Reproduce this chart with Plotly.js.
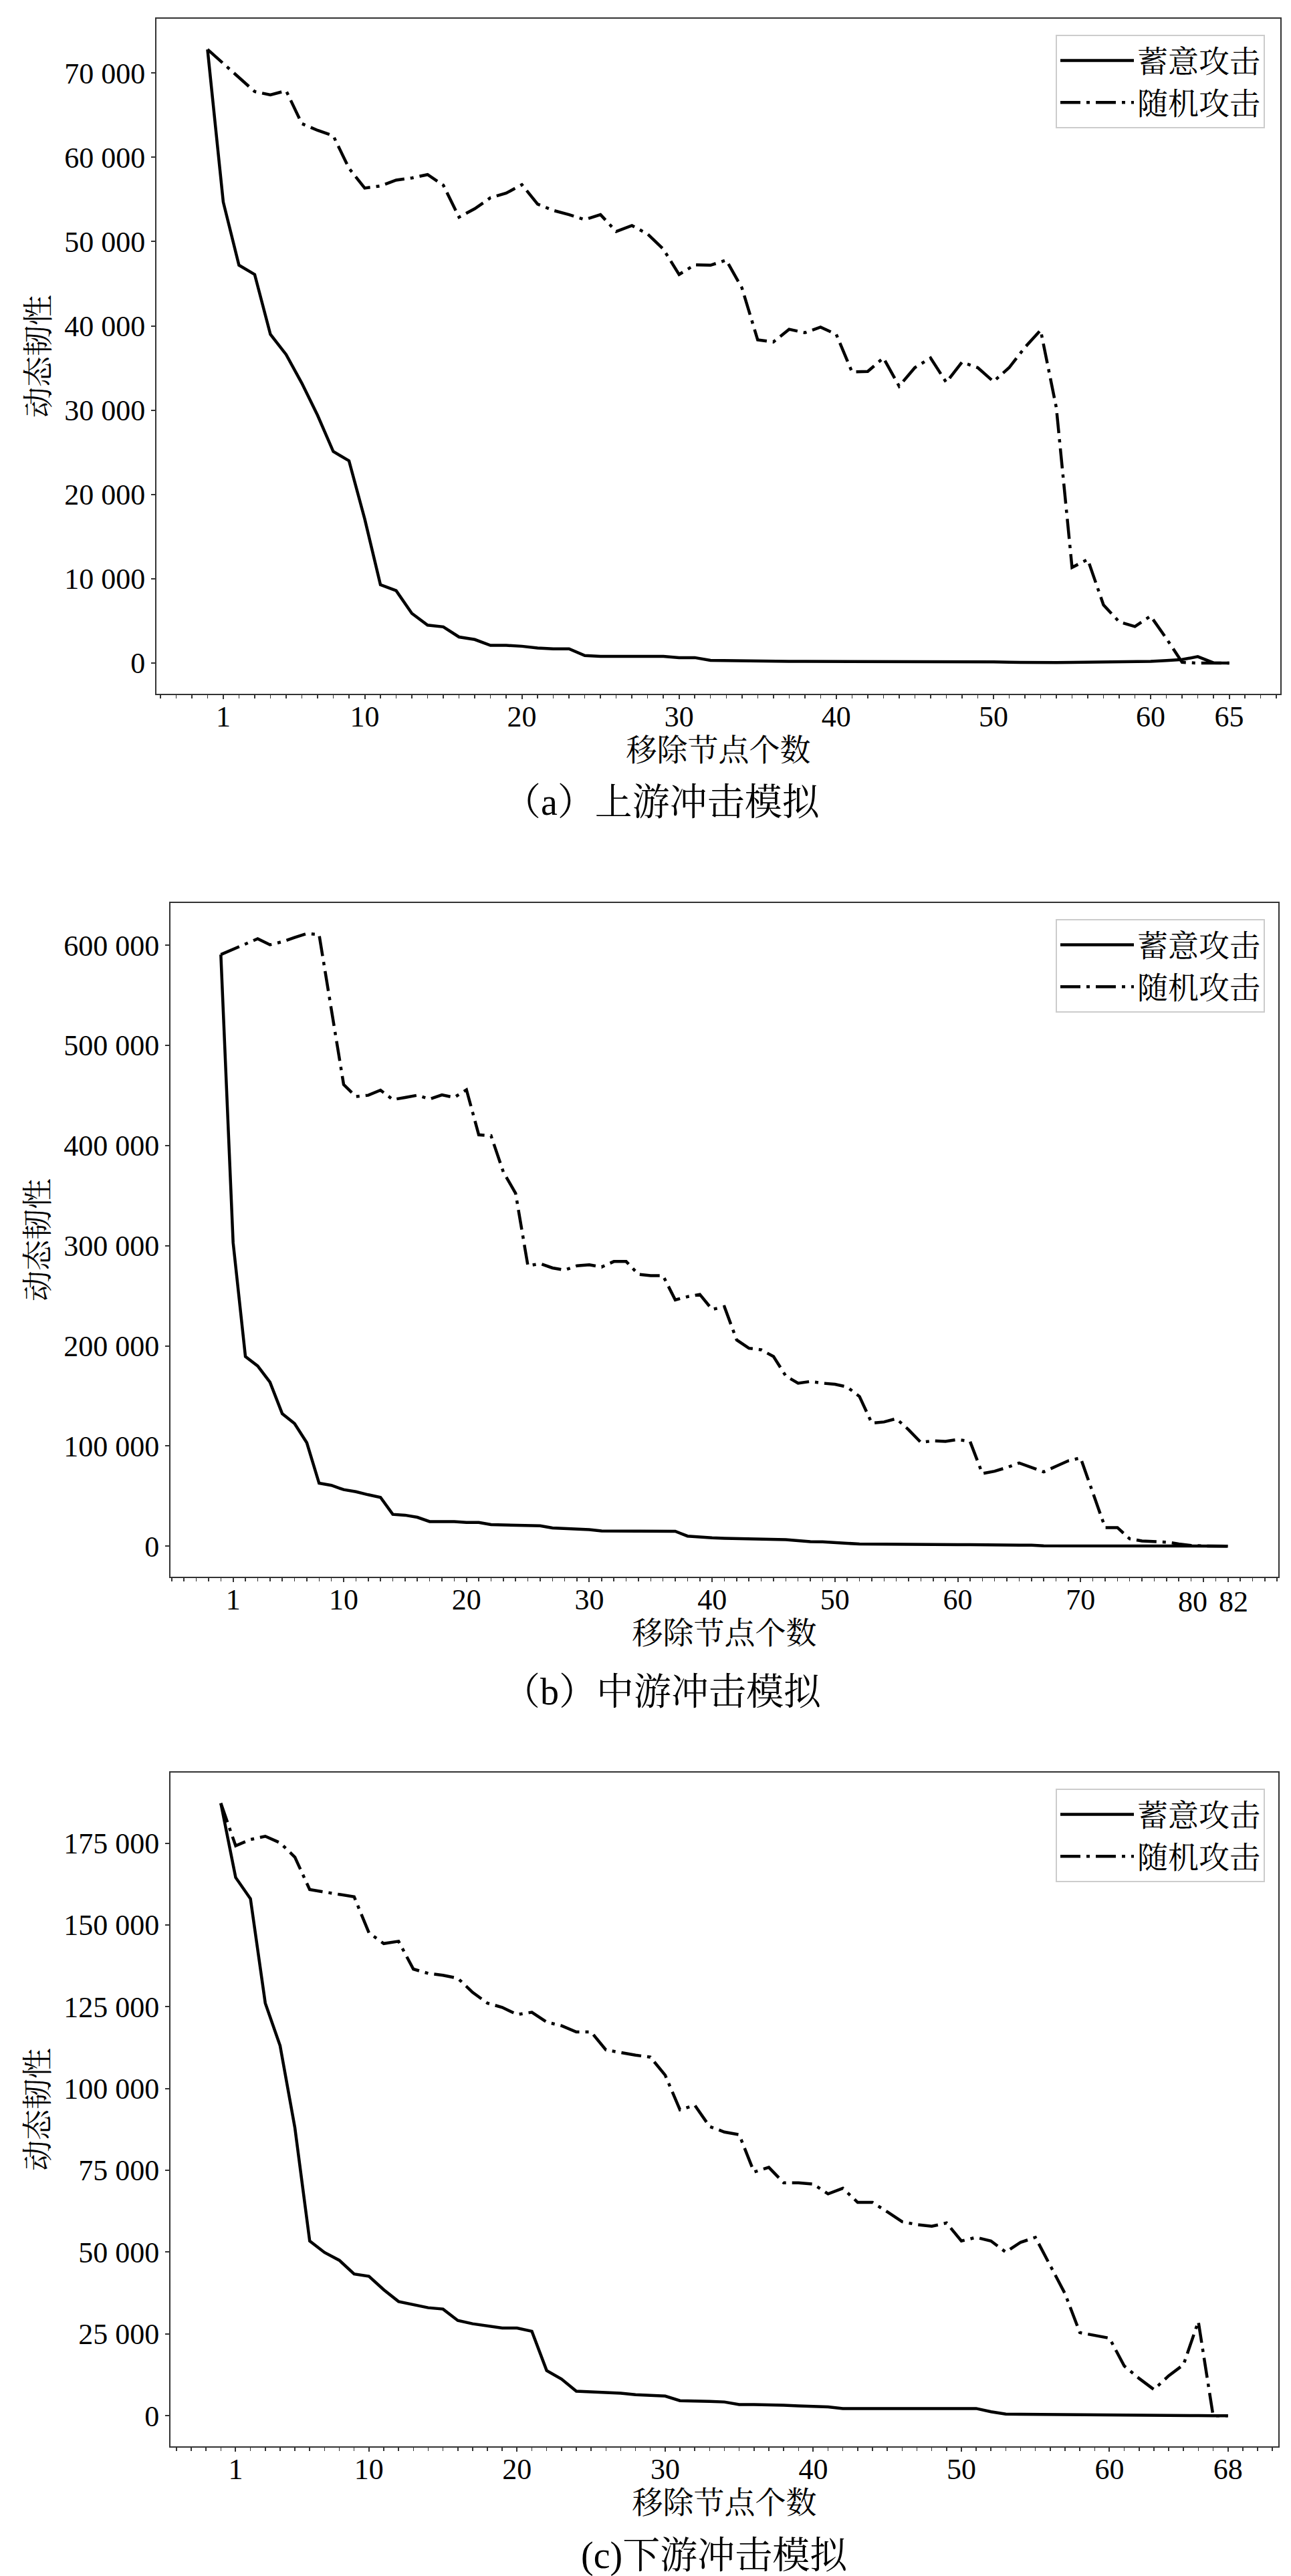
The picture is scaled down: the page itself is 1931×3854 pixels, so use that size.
<!DOCTYPE html>
<html>
<head>
<meta charset="utf-8">
<script src="https://cdn.plot.ly/plotly-3.0.1.min.js"></script>
<style>
  body { margin: 0; background: #fff; }
  #plot { width: 1931px; height: 3854px; }
</style>
</head>
<body>
<div id="plot"></div>
<script>
// values, x = number of removed nodes (0, 1, 2, ...)
const upTargeted = [72800, 54700, 47200, 46100, 39000, 36600, 33200, 29400, 25100, 24000,
  17100, 9300, 8600, 5900, 4500, 4300, 3100, 2800, 2100, 2100,
  2000, 1800, 1700, 1700, 900, 800, 800, 800, 800, 800,
  650, 650, 330, 300, 250, 200, 200, 200, 200, 200,
  190, 190, 190, 190, 180, 180, 180, 170, 170, 170,
  150, 100, 60, 60, 60, 80, 100, 120, 150, 170,
  200, 300, 420, 770, 30, 0];
const upRandom = [72800, 71100, 69500, 67800, 67400, 67900, 64000, 63200, 62550, 58700,
  56350, 56600, 57300, 57550, 57950, 56700, 52900, 53900, 55200, 55750,
  56750, 54450, 53700, 53200, 52600, 53200, 51200, 51900, 50900, 49100,
  46100, 47250, 47200, 47800, 44500, 38350, 38100, 39600, 39200, 39850,
  39000, 34550, 34600, 36200, 32850, 35050, 36200, 33300, 35700, 35050,
  33400, 35050, 37450, 39500, 30300, 11350, 12300, 6900, 4900, 4340,
  5580, 2930, 100, 0, 0, 0];

const midTargeted = [590700, 303000, 189300, 179900, 163700, 132200, 122400, 103200, 62800, 60700,
  56400, 54300, 51300, 48700, 31700, 30900, 28800, 24500, 24500, 24500,
  23700, 23700, 21500, 21100, 21000, 20700, 20300, 18100, 17700, 17500,
  16400, 15200, 15100, 15000, 15000, 14900, 14800, 14800, 10000, 8900,
  8300, 7800, 7600, 7300, 7000, 6700, 6500, 5500, 4400, 4300,
  3300, 2800, 2200, 2200, 2200, 2100, 2100, 2000, 1900, 1700,
  1500, 1400, 1400, 1300, 1300, 1200, 900, 300, 250, 250,
  200, 200, 200, 150, 150, 150, 100, 100, 100, 50,
  50, 0, 0];
const midRandom = [590700, 596000, 601000, 606500, 600500, 603500, 607700, 611600, 610700, 537500,
  460900, 448900, 450200, 455300, 445900, 448000, 450200, 446400, 450600, 448000,
  455700, 410700, 409800, 373600, 352300, 280000, 282000, 277800, 275700, 280000,
  280900, 278700, 284200, 284200, 271400, 270100, 270100, 245900, 249100, 251300,
  236300, 239100, 205900, 197600, 196000, 189300, 169900, 162700, 164400, 162700,
  161600, 158900, 149400, 122900, 124000, 127300, 116200, 103500, 105200, 104600,
  106400, 104600, 72500, 74800, 78500, 83000, 78500, 74100, 79700, 85200,
  88100, 54100, 18500, 18500, 7300, 5100, 4500, 4000, 2200, 700,
  200, 0, 0];

const downTargeted = [187200, 164500, 158000, 126100, 113100, 88000, 53400, 49900, 47500, 43300,
  42600, 38500, 34900, 33900, 33000, 32600, 29100, 28100, 27400, 26800,
  26800, 25800, 13800, 11200, 7500, 7300, 7000, 6900, 6400, 6200,
  6000, 4600, 4600, 4400, 4200, 3400, 3400, 3400, 3200, 3000,
  2900, 2700, 2200, 2200, 2200, 2200, 2200, 2200, 2200, 2200,
  2200, 2200, 1200, 500, 450, 400, 350, 300, 200, 150,
  150, 150, 100, 100, 80, 50, 30, 0, 0];
const downRandom = [187200, 174200, 176100, 177100, 175100, 170700, 160800, 160000, 159300, 158600,
  147600, 144300, 145000, 136500, 135200, 134600, 133700, 129400, 126100, 124800,
  122600, 123300, 120300, 119200, 117300, 117300, 111800, 110900, 110200, 109600,
  104100, 93500, 94900, 88400, 86700, 85900, 74500, 75900, 71200, 71200,
  70800, 67800, 69500, 65200, 65200, 62300, 59300, 58400, 57900, 58900,
  53400, 54500, 53400, 50000, 53000, 54500, 45700, 37300, 25400, 24600,
  23700, 15200, 11400, 8000, 12200, 15600, 28800, 0, 0];

const upTicks = [1, 10, 20, 30, 40, 50, 60, 65];
const midTicks = [1, 10, 20, 30, 40, 50, 60, 70, 80, 82];
const downTicks = [1, 10, 20, 30, 40, 50, 60, 68];
// 80 and 82 sit close together, so their labels are written separately and nudged apart
const midCrowded = [80, 82];
const midCrowdedShift = [-16, 8];

const seriesNames = ['蓄意攻击', '随机攻击'];
const yTitle = '动态韧性';
const xTitle = '移除节点个数';
const captions = ['（a）上游冲击模拟', '（b）中游冲击模拟', '(c)下游冲击模拟'];

const W = 1931, H = 3854;
const FONT = 'Liberation Serif, Noto Serif CJK SC, Noto Sans CJK SC, serif';
const TICK_FONT = { family: FONT, size: 44 };

// frame of each panel in pixels: left, right, top, bottom; caption centre
const panels = [
  { box: [234, 1915, 28, 1038], capX: 990, capY: 1200, ydtick: 10000,
    targeted: upTargeted, random: upRandom, ticks: upTicks },
  { box: [255, 1912, 1351, 2359], capX: 990, capY: 2531, ydtick: 100000,
    targeted: midTargeted, random: midRandom, ticks: midTicks,
    crowded: midCrowded, crowdedShift: midCrowdedShift },
  { box: [255, 1912, 2652, 3660], capX: 1068, capY: 3823, ydtick: 25000,
    targeted: downTargeted, random: downRandom, ticks: downTicks },
];

function padded(lo, hi) {
  const m = (hi - lo) * 0.05;
  return [lo - m, hi + m];
}

const data = [];
const layout = {
  width: W,
  height: H,
  margin: { l: 0, r: 0, t: 0, b: 0 },
  paper_bgcolor: '#fff',
  plot_bgcolor: '#fff',
  separators: '. ',
  font: { family: FONT, size: 44, color: '#000' },
  showlegend: true,
  annotations: [],
};

panels.forEach((p, i) => {
  const sfx = i === 0 ? '' : String(i + 1);
  const [l, r, t, b] = p.box;
  const legendName = 'legend' + sfx;
  const n = p.targeted.length - 1;
  const ymax = Math.max(...p.targeted, ...p.random);
  const crowded = p.crowded || [];

  data.push({
    y: p.targeted, type: 'scatter', mode: 'lines', name: seriesNames[0],
    xaxis: 'x' + sfx, yaxis: 'y' + sfx, legend: legendName,
    line: { color: '#000', width: 4.5 },
  });
  data.push({
    y: p.random, type: 'scatter', mode: 'lines', name: seriesNames[1],
    xaxis: 'x' + sfx, yaxis: 'y' + sfx, legend: legendName,
    line: { color: '#000', width: 4.5, dash: '30px,9px,5px,9px' },
  });

  layout['xaxis' + sfx] = {
    domain: [l / W, r / W],
    anchor: 'y' + sfx,
    range: padded(0, n),
    tickmode: 'array',
    tickvals: p.ticks,
    ticktext: p.ticks.map(v => crowded.includes(v) ? '' : String(v)),
    tickangle: 0,
    ticklabelstandoff: -12,
    ticks: 'outside', ticklen: 6, tickwidth: 2, tickcolor: '#333',
    minor: { tickmode: 'linear', tick0: 0, dtick: 1, ticks: 'outside', ticklen: 5, tickwidth: 1.5, tickcolor: '#333' },
    showline: true, mirror: true, linecolor: '#333', linewidth: 2,
    showgrid: false, zeroline: false,
    tickfont: TICK_FONT,
    title: { text: xTitle, font: { family: FONT, size: 46 }, standoff: 4 },
  };

  // tick labels for the crowded ticks, placed on the x scale and nudged sideways
  crowded.forEach((v, k) => {
    layout.annotations.push({
      text: String(v), x: v, xref: 'x' + sfx, y: 0, yref: 'y' + sfx + ' domain',
      xanchor: 'center', yanchor: 'middle', xshift: p.crowdedShift[k], yshift: -37,
      showarrow: false, font: TICK_FONT,
    });
  });

  layout['yaxis' + sfx] = {
    domain: [1 - b / H, 1 - t / H],
    anchor: 'x' + sfx,
    range: padded(0, ymax),
    tickmode: 'linear', tick0: 0, dtick: p.ydtick,
    tickformat: ',d',
    ticks: 'outside', ticklen: 6, tickwidth: 2, tickcolor: '#333',
    showline: true, mirror: true, linecolor: '#333', linewidth: 2,
    showgrid: false, zeroline: false,
    tickfont: TICK_FONT,
    title: { text: yTitle, font: { family: FONT, size: 46 }, standoff: 8 },
  };
  layout[legendName] = {
    x: 1892 / W, xanchor: 'right',
    y: 1 - (t + 24) / H, yanchor: 'top',
    bgcolor: '#fff', bordercolor: '#cccccc', borderwidth: 2,
    font: { family: FONT, size: 46 },
    itemwidth: 110,
    tracegroupgap: 0,
  };
  layout.annotations.push({
    text: captions[i], xref: 'paper', yref: 'paper',
    x: p.capX / W, y: 1 - p.capY / H, xanchor: 'center', yanchor: 'middle',
    showarrow: false, font: { family: FONT, size: 56 },
  });
});

Plotly.newPlot(document.getElementById('plot'), data, layout, { staticPlot: true });
</script>
</body>
</html>
